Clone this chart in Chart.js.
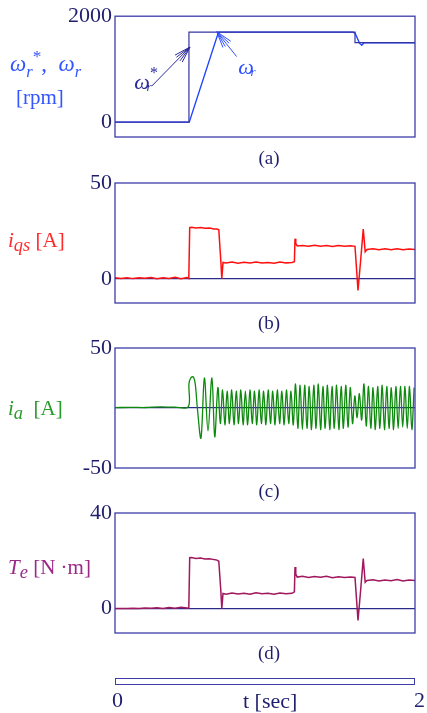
<!DOCTYPE html>
<html>
<head>
<meta charset="utf-8">
<script src="https://cdn.jsdelivr.net/npm/chart.js@4"></script>
<style>
  body { margin: 0; background: #fff; width: 427px; height: 713px; position: relative; overflow: hidden; font-family: 'Liberation Serif', serif; }
  canvas { position: absolute; left: 0; }
  .lbl { position: absolute; white-space: nowrap; line-height: 1; }
  .cap { position: absolute; width: 100px; text-align: center; color: #1f1f6e; font-size: 19px; line-height: 1; }
  sub { font-size: 0.72em; vertical-align: -0.35em; line-height: 0; }
  sup { font-size: 0.75em; vertical-align: 0.55em; line-height: 0; }
  .big sub { font-size: 0.88em; vertical-align: -0.2em; }
  #tbar { position: absolute; left: 115px; top: 678px; width: 300px; height: 7px; box-sizing: border-box; border: 1.3px solid #3d3da8; }
</style>
</head>
<body>
<canvas id="speedChart" width="427" height="157" style="top:0px"></canvas>
<canvas id="iqsChart" width="427" height="160" style="top:163px"></canvas>
<canvas id="iaChart" width="427" height="160" style="top:328px"></canvas>
<canvas id="torqueChart" width="427" height="160" style="top:493px"></canvas>

<div class="lbl" style="left:10px;top:52px;color:#3355ff;font-size:23px"><i>ω</i><sub><i>r</i></sub><sup>*</sup>,&nbsp; <i>ω</i><sub><i>r</i></sub></div>
<div class="lbl" style="left:16px;top:87px;color:#3355ff;font-size:21px">[rpm]</div>
<div class="lbl big" style="left:8px;top:230px;color:#ff2a2a;font-size:21px"><i>i</i><sub><i>qs</i></sub> [A]</div>
<div class="lbl big" style="left:8px;top:398px;color:#2a9a2a;font-size:21px"><i>i</i><sub><i>a</i></sub>&nbsp;&nbsp;[A]</div>
<div class="lbl big" style="left:8px;top:557px;color:#9a2a86;font-size:21px"><i>T</i><sub><i>e</i></sub> [N ·m]</div>

<div class="cap" style="left:219px;top:148px">(a)</div>
<div class="cap" style="left:219px;top:313px">(b)</div>
<div class="cap" style="left:219px;top:481px">(c)</div>
<div class="cap" style="left:219px;top:643px">(d)</div>

<div id="tbar"></div>
<div class="lbl" style="left:112px;top:689px;color:#1f1f6e;font-size:22px">0</div>
<div class="lbl" style="left:414px;top:689px;color:#1f1f6e;font-size:22px">2</div>
<div class="lbl" style="left:243px;top:690px;color:#1f1f6e;font-size:22px">t [sec]</div>

<script>
// (a) speed reference and speed [rpm]
const speedRefTime = [0, 0.493, 0.493, 1.600, 1.600, 2.0];
const speedRef = [0, 0, 1700, 1700, 1500, 1500];
const speedTime = [0, 0.495, 0.690, 1.585, 1.600, 1.615, 1.630, 1.645, 1.660, 2.0];
const speed = [0, 0, 1700, 1700, 1680, 1590, 1490, 1450, 1500, 1500];
const speedTicks = [0, 2000];

// (b) q-axis current and (d) torque share the same time stamps
const stepTime = [0, 0.04, 0.08, 0.12, 0.16, 0.20, 0.24, 0.28, 0.32, 0.36, 0.40, 0.44, 0.48,
  0.492, 0.498, 0.51, 0.54, 0.57, 0.60, 0.63, 0.66, 0.68, 0.692, 0.705, 0.712, 0.72,
  0.74, 0.78, 0.82, 0.86, 0.90, 0.94, 0.98, 1.02, 1.06, 1.10, 1.14, 1.18,
  1.196, 1.20, 1.205, 1.215, 1.25, 1.29, 1.33, 1.37, 1.41, 1.45, 1.49, 1.53, 1.57,
  1.60, 1.62, 1.638, 1.655, 1.668, 1.68, 1.72, 1.76, 1.80, 1.84, 1.88, 1.92, 1.96, 2.0];
const iqs = [0.6, 0.3, 0.7, 0.2, 0.6, 0.4, 0.8, 0.1, 0.7, 0.3, 0.9, 0.2, 0.8,
  0.3, 26.8, 27.0, 26.6, 26.8, 26.4, 26.5, 26.1, 26.0, 25.6, 10, 0.2, 8.6,
  8.3, 8.8, 8.2, 8.7, 8.4, 8.9, 8.3, 8.6, 8.2, 8.8, 8.4, 8.6,
  9, 21, 18.5, 17.2, 17.5, 17.0, 17.6, 17.1, 17.5, 16.9, 17.4, 17.0, 17.3,
  17.0, -6, 10, 26, 14.2, 15.4, 15.8, 15.2, 15.7, 15.3, 15.8, 15.2, 15.6, 15.4];
const iqsTicks = [0, 50];

const torque = [0, 0.1, 0.0, 0.2, 0.1, 0.3, 0.2, 0.4, 0.1, 0.5, 0.2, 0.6, 0.3,
  0.2, 21.3, 21.4, 21.0, 21.2, 20.8, 20.9, 20.5, 20.3, 19.8, 8, 0, 6.3,
  6.0, 6.5, 6.1, 6.4, 6.0, 6.6, 6.2, 6.4, 6.0, 6.5, 6.2, 6.4,
  7, 17.4, 14.5, 13.2, 13.5, 13.0, 13.4, 13.1, 13.5, 12.9, 13.3, 13.0, 13.2,
  13.0, -4.9, 8, 20.9, 11, 11.8, 12.1, 11.6, 12.0, 11.7, 12.2, 11.6, 12.0, 11.8];
const torqueTicks = [0, 40];

// (c) phase current: start-up part, then peaks/troughs every half period
const iaStartTime = [0, 0.1, 0.2, 0.3, 0.4, 0.488, 0.493, 0.505, 0.522, 0.535, 0.549, 0.573, 0.596, 0.620, 0.646, 0.665, 0.686];
const iaStart = [0.3, 0.6, 0.4, 0.9, 0.7, 1.0, 20, 25, 26, 20, 0, -25, 25, -19, 25, -24, 17];
const iaCycleStart = 0.702;
const iaHalfPeriod = 0.0152;
const iaPeaks = [-13, 15, -14, 14, -13, 15, -14, 14, -13, 15, -14, 14, -14, 15, -13, 14,
  -14, 15, -13, 14, -14, 15, -13, 14, -14, 15, -13, 14, -14, 15, -13, 14, -14,
  20, -17, 19, -18, 19, -17, 18, -18, 19, -17, 20, -18, 18, -17, 19, -18, 18, -17, 19, -18, 18, -17, 19,
  -16, 17, -13, 10, -8, 12, -10, 20, -15, 18, -17, 17, -18, 18, -17, 19, -18, 18, -17, 17,
  -18, 18, -17, 18, -16, 18, -17, 18, -18, 17];
const iaTicks = [-50, 0, 50];

const navy = '#1f1f6e';
const frameColor = '#3d3da8';
const zeroColor = '#2b2b8c';
const serif = "'Liberation Serif', serif";

const pairs = (xs, ys) => xs.map((x, i) => ({ x: x, y: ys[i] }));

const framePlugin = {
  id: 'frame',
  afterDatasetsDraw(chart) {
    const { ctx, chartArea: a } = chart;
    ctx.save();
    ctx.strokeStyle = frameColor;
    ctx.lineWidth = 1.3;
    ctx.strokeRect(a.left, a.top, a.right - a.left, a.bottom - a.top);
    ctx.restore();
  }
};

// arrow labels on (a), placed in data units
const speedNotes = [
  { at: [0.18, 737], star: true, from: [0.245, 681], to: [0.5, 1418], color: '#2a2a9a' },
  { at: [0.873, 1020], star: false, from: [0.811, 1238], to: [0.678, 1707], color: '#2f50ff' }
];

const notePlugin = {
  id: 'notes',
  afterDatasetsDraw(chart) {
    const { ctx, scales: { x, y } } = chart;
    ctx.save();
    speedNotes.forEach(n => {
      const fx = x.getPixelForValue(n.from[0]), fy = y.getPixelForValue(n.from[1]);
      const tx = x.getPixelForValue(n.to[0]), ty = y.getPixelForValue(n.to[1]);
      ctx.strokeStyle = n.color;
      ctx.lineWidth = 1;
      ctx.beginPath();
      ctx.moveTo(fx, fy);
      ctx.lineTo(tx, ty);
      const ang = Math.atan2(fy - ty, fx - tx);
      [-0.3, -0.15, 0.15, 0.3].forEach(d => {
        ctx.moveTo(tx, ty);
        ctx.lineTo(tx + 17 * Math.cos(ang + d), ty + 17 * Math.sin(ang + d));
      });
      ctx.stroke();
      const lx = x.getPixelForValue(n.at[0]), ly = y.getPixelForValue(n.at[1]);
      ctx.fillStyle = n.color;
      ctx.textAlign = 'center';
      ctx.textBaseline = 'middle';
      ctx.font = 'italic 22px ' + serif;
      ctx.fillText('ω', lx, ly);
      ctx.font = 'italic 13px ' + serif;
      ctx.fillText('r', lx + 7, ly + 4);
      if (n.star) {
        ctx.font = '16px ' + serif;
        ctx.fillText('*', lx + 12, ly - 9);
      }
    });
    ctx.restore();
  }
};

function makePanel(id, o) {
  return new Chart(document.getElementById(id), {
    type: 'line',
    data: { datasets: o.datasets },
    options: {
      responsive: false,
      animation: false,
      layout: { padding: { top: o.padTop, bottom: 20, left: 0, right: 12 } },
      elements: { point: { radius: 0 }, line: { borderWidth: 1.3, tension: 0 } },
      plugins: { legend: { display: false }, tooltip: { enabled: false } },
      scales: {
        x: { type: 'linear', min: 0, max: 2, display: false },
        y: {
          min: o.min,
          max: o.max,
          afterBuildTicks: s => { s.ticks = o.ticks.map(v => ({ value: v })); },
          afterFit: s => { s.width = 115; },
          ticks: {
            color: navy,
            padding: 3,
            font: { family: serif, size: 22 },
            callback: v => (o.hideZero && v === 0) ? '' : String(v)
          },
          grid: {
            drawTicks: false,
            lineWidth: 1.2,
            color: c => (o.zeroLine && c.tick && c.tick.value === 0) ? zeroColor : 'rgba(0,0,0,0)'
          },
          border: { display: false }
        }
      }
    },
    plugins: [framePlugin].concat(o.plugins || [])
  });
}

makePanel('speedChart', {
  padTop: 16, min: -281, max: 2000, ticks: speedTicks, zeroLine: false,
  plugins: [notePlugin],
  datasets: [
    { data: pairs(speedRefTime, speedRef), borderColor: '#3434a4', borderWidth: 1.2 },
    { data: pairs(speedTime, speed), borderColor: '#1f43ff', borderWidth: 1.4 }
  ]
});

makePanel('iqsChart', {
  padTop: 20, min: -12.5, max: 50, ticks: iqsTicks, zeroLine: true,
  datasets: [{ data: pairs(stepTime, iqs), borderColor: '#ff1010', borderWidth: 1.5 }]
});

makePanel('iaChart', {
  padTop: 20, min: -50, max: 50, ticks: iaTicks, zeroLine: true, hideZero: true,
  datasets: [{
    data: pairs(iaStartTime, iaStart).concat(iaPeaks.map((v, i) => ({ x: iaCycleStart + i * iaHalfPeriod, y: v }))),
    borderColor: '#0d8a0d', borderWidth: 1.3, tension: 0.35
  }]
});

makePanel('torqueChart', {
  padTop: 20, min: -10.2, max: 40, ticks: torqueTicks, zeroLine: true,
  datasets: [{ data: pairs(stepTime, torque), borderColor: '#a0185e', borderWidth: 1.5 }]
});
</script>
</body>
</html>
